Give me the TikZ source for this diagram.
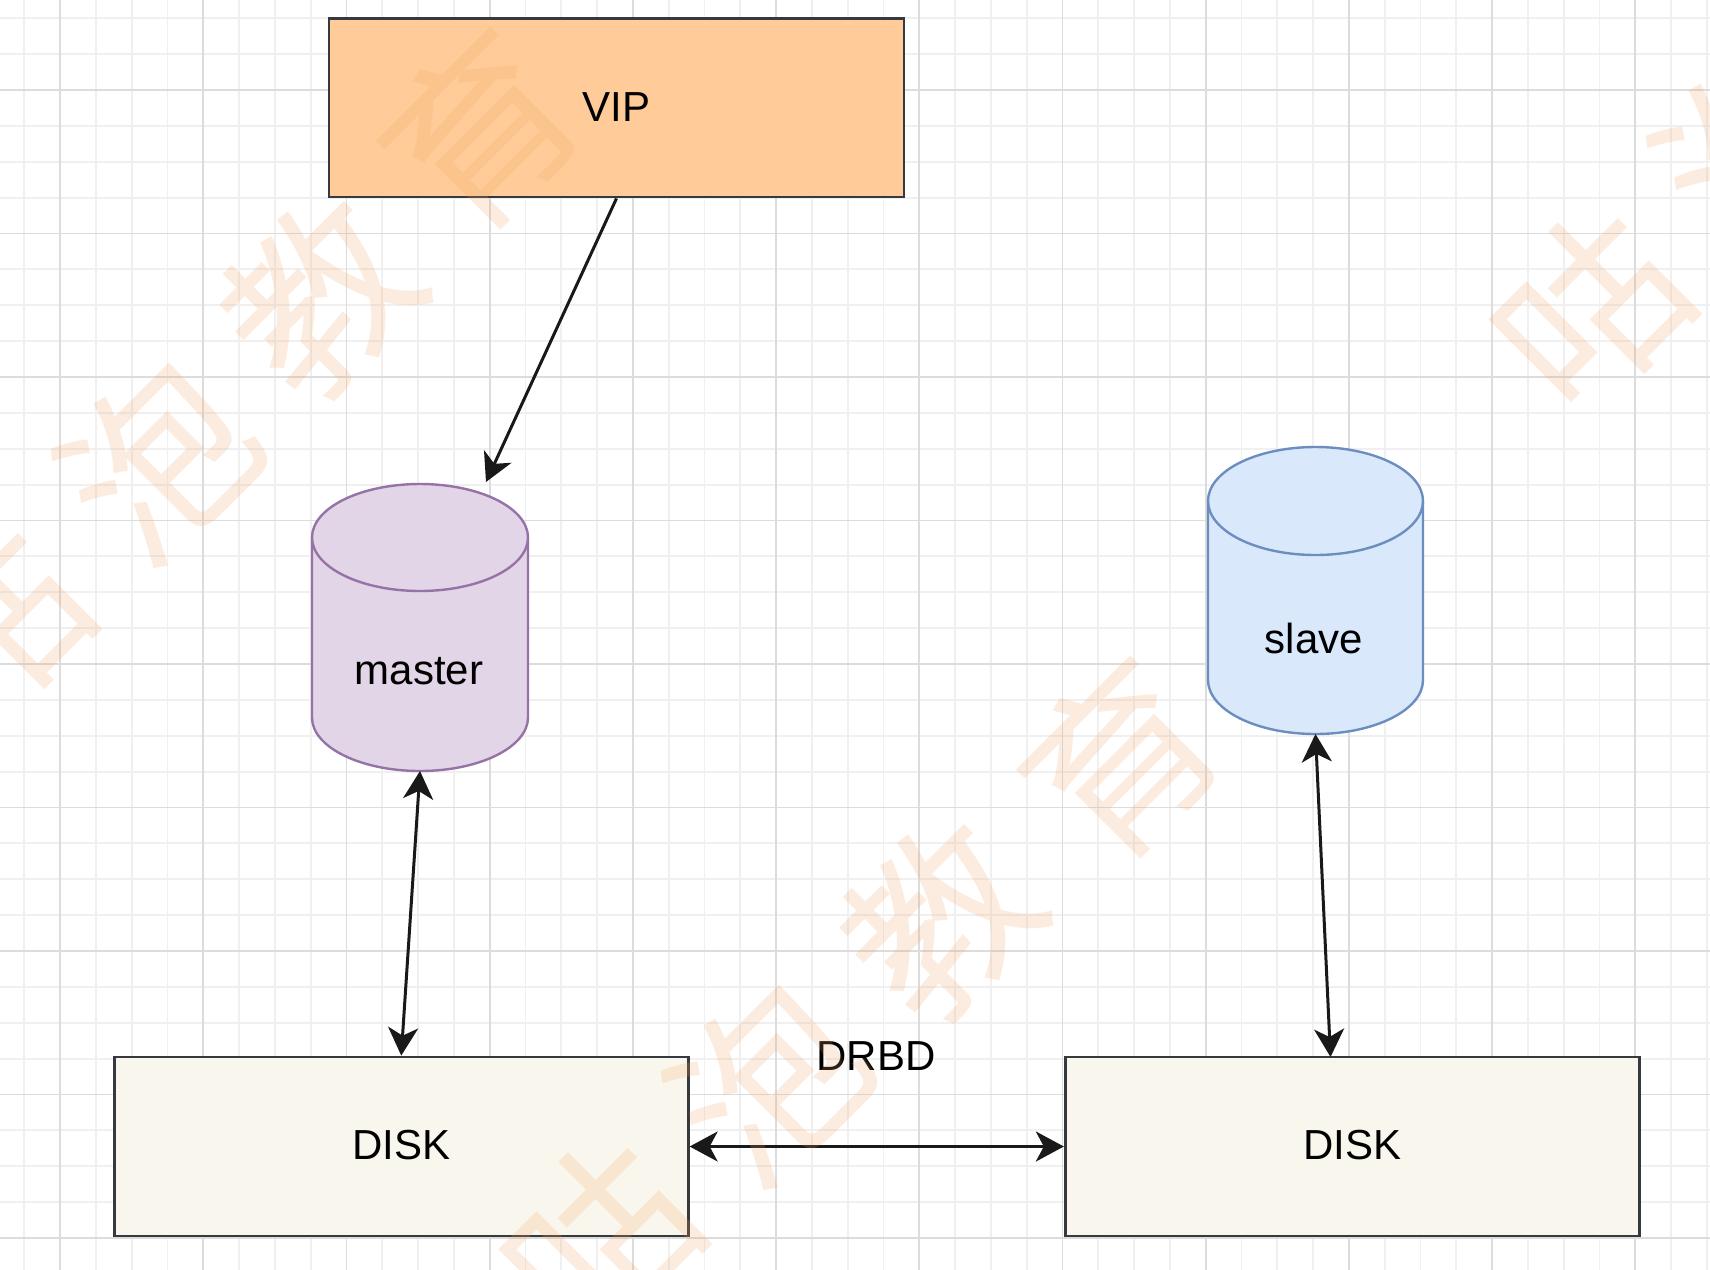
\documentclass[tikz,border=0pt]{standalone}
\usepackage{fontspec}
\setmainfont{Liberation Sans}
\newfontfamily\cjkfont{Noto Sans CJK SC}
\usetikzlibrary{arrows.meta,calc}
\definecolor{vipfill}{HTML}{FFCC99}
\definecolor{diskfill}{HTML}{F9F7ED}
\definecolor{boxline}{HTML}{36393D}
\definecolor{mfill}{HTML}{E1D5E7}
\definecolor{mline}{HTML}{9673A6}
\definecolor{sfill}{HTML}{DAE8FC}
\definecolor{sline}{HTML}{6C8EBF}
\definecolor{gridmajor}{HTML}{DCDCDC}
\definecolor{gridminor}{HTML}{F0F0F0}
\definecolor{wmcolor}{HTML}{F4A460}
\tikzset{
  minorline/.style={draw=gridminor, line width=0.9pt},
  majorline/.style={draw=gridmajor, line width=0.9pt},
  boxnode/.style={draw=boxline, line width=1.4pt, rectangle, inner sep=0pt},
  vipbox/.style={boxnode, fill=vipfill, minimum width=287.5pt, minimum height=89.25pt},
  diskbox/.style={boxnode, fill=diskfill, minimum width=287pt, minimum height=89.5pt},
  cylarea/.style={rectangle, inner sep=0pt, outer sep=0pt},
  lbl/.style={font=\fontsize{21pt}{25pt}\selectfont, text=black, inner sep=0pt},
  conn/.style={draw=black!90, line width=1.5pt, -{Stealth[length=14pt, width=15pt, inset=4pt]}},
  conn2/.style={draw=black!90, line width=1.5pt, {Stealth[length=14pt, width=15pt, inset=4pt]}-{Stealth[length=14pt, width=15pt, inset=4pt]}},
  wm/.style={font=\cjkfont\fontsize{92pt}{92pt}\selectfont, text=wmcolor, text opacity=0.2, rotate=45, inner sep=0pt}
}
\begin{document}
\begin{tikzpicture}[x=0.5pt,y=-0.5pt]
\useasboundingbox (0,0) rectangle (1710,1270);
\fill[white] (0,0) rectangle (1710,1270);
% grid
\foreach \i in {-1,...,46}{\draw[minorline] ({60+35.8*\i},0) -- ({60+35.8*\i},1270);}
\foreach \i in {-2,...,33}{\draw[minorline] (0,{90+35.875*\i}) -- (1710,{90+35.875*\i});}
\foreach \i in {0,...,11}{\draw[majorline] ({60+143.2*\i},0) -- ({60+143.2*\i},1270);}
\foreach \i in {0,...,8}{\draw[majorline] (0,{90+143.5*\i}) -- (1710,{90+143.5*\i});}

% boxes
\node[vipbox] (vip) at (616.5,107.75) {};
\node[lbl] (viptxt) at (616.5,107) {VIP};
\node[diskbox] (disk1) at (401.25,1146.5) {};
\node[lbl] (disk1txt) at (401.25,1145) {DISK};
\node[diskbox] (disk2) at (1352.25,1146.5) {};
\node[lbl] (disk2txt) at (1352.25,1145) {DISK};

% master cylinder
\node[cylarea, minimum width=108pt, minimum height=143.5pt] (master) at (420,627.5) {};
\draw[fill=mfill, draw=mline, line width=1.2pt]
  (312,537.5) -- (312,717.5)
  arc[start angle=180, end angle=360, x radius=54pt, y radius=26.75pt]
  -- (528,537.5)
  arc[start angle=0, end angle=180, x radius=54pt, y radius=26.75pt] -- cycle;
\draw[draw=mline, line width=1.2pt] (312,537.5)
  arc[start angle=180, end angle=360, x radius=54pt, y radius=26.75pt];
\node[lbl] (mastertxt) at (419,671) {master};

% slave cylinder
\node[cylarea, minimum width=107.5pt, minimum height=143.5pt] (slave) at (1315.5,590.5) {};
\draw[fill=sfill, draw=sline, line width=1.2pt]
  (1208,501) -- (1208,680)
  arc[start angle=180, end angle=360, x radius=53.75pt, y radius=27pt]
  -- (1423,501)
  arc[start angle=0, end angle=180, x radius=53.75pt, y radius=27pt] -- cycle;
\draw[draw=sline, line width=1.2pt] (1208,501)
  arc[start angle=180, end angle=360, x radius=53.75pt, y radius=27pt];
\node[lbl] (slavetxt) at (1314,638) {slave};

% connectors
\coordinate (mtop) at (486,482);
\coordinate (d2top) at (1330.5,1057);
\draw[conn] (vip.south) -- (mtop);
\draw[conn2] (master.south) -- (disk1.north);
\draw[conn2] (slave.south) -- (d2top);
\draw[conn2] (disk1.east) -- (disk2.west);
\node[lbl] (drbd) at (876,1056) {DRBD};

% watermark
\node[wm] (w1a) at (-10,625) {咕};
\node[wm] (w1b) at (158,460) {泡};
\node[wm] (w1c) at (320,297) {教};
\node[wm] (w1d) at (480,131) {育};
\node[wm] (w2a) at (600,1240) {咕};
\node[wm] (w2b) at (768,1082) {泡};
\node[wm] (w2c) at (940,920) {教};
\node[wm] (w2d) at (1120,760) {育};
\node[wm] (w3a) at (1590,310) {咕};
\node[wm] (w3b) at (1753,147) {泡};
\end{tikzpicture}
\end{document}
